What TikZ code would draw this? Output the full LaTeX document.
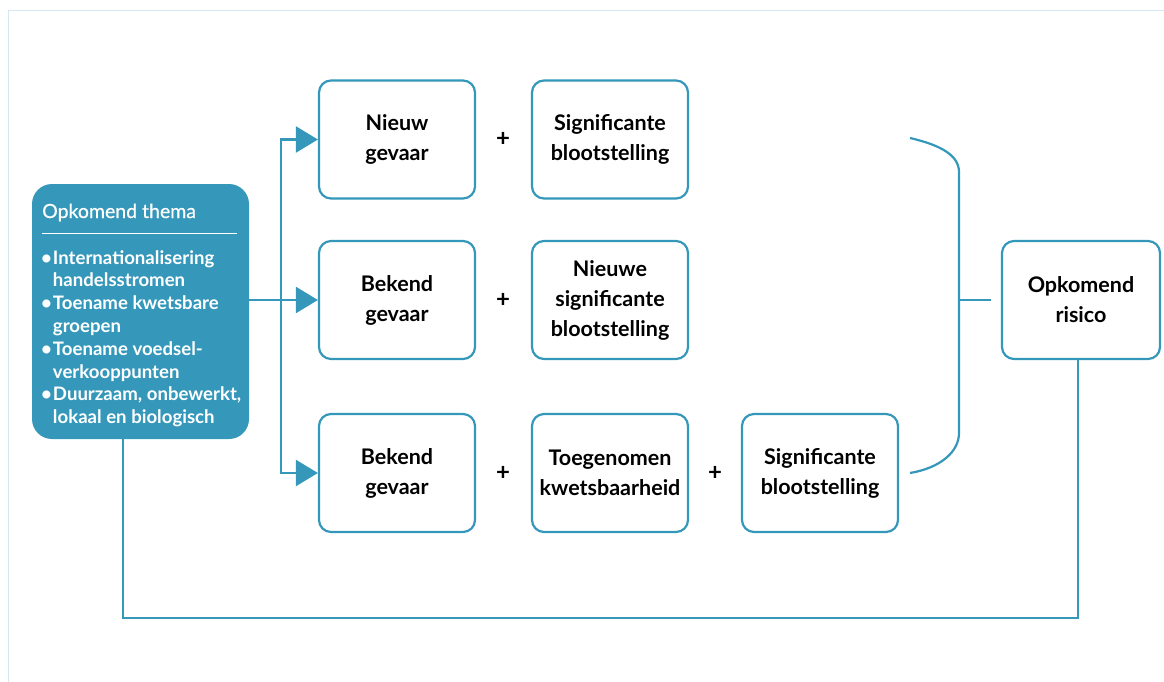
\documentclass[tikz,border=0pt]{standalone}
\usepackage{fontspec}
\setmainfont{Lato}
\newfontfamily\titlefont{Lato}[FakeBold=0.5]
\usetikzlibrary{arrows.meta}
\definecolor{mainblue}{HTML}{3598BA}
\definecolor{framecol}{HTML}{D5E8F1}
\begin{document}
\begin{tikzpicture}[x=1pt,y=-1pt,
  conn/.style={draw=mainblue,line width=2.2pt},
  arr/.style={conn,-{Triangle[length=22pt,width=26pt]}},
  box/.style={draw=mainblue,line width=2.2pt,rounded corners=12pt,fill=white,
    minimum width=156pt,minimum height=118pt,align=center,
    font=\fontsize{21.5}{30}\selectfont\bfseries,inner sep=2pt},
  plus/.style={font=\fontsize{24}{24}\selectfont\bfseries,inner sep=0pt},
  bullettext/.style={text=white,font=\fontsize{18.6}{22.8}\selectfont\bfseries,anchor=north west,inner sep=0pt,align=left}
]
\useasboundingbox (0,0) rectangle (1164,682);
\fill[white] (0,0) rectangle (1164,682);
\draw[framecol,line width=1pt] (8.5,682) -- (8.5,10.5) -- (1164,10.5);

% left theme box
\node[fill=mainblue,rounded corners=20pt,minimum width=217pt,minimum height=255pt,inner sep=0pt] (lb) at (140.5,311.5) {};
\node[text=white,font=\titlefont\fontsize{19.5}{22}\selectfont,anchor=west,inner sep=0pt] (title) at (42,212.5) {Opkomend thema};
\draw[white,line width=1pt] (42,233) -- (237,233);
\node[bullettext] (list) at (41,248) {%
\begin{tabular}{@{}l@{\hspace{1pt}}l@{}}
\textbullet & Internationalisering\\
 & handelsstromen\\
\textbullet & Toename kwetsbare\\
 & groepen\\
\textbullet & Toename voedsel-\\
 & verkooppunten\\
\textbullet & Duurzaam, onbewerkt,\\
 & lokaal en biologisch
\end{tabular}};

% boxes
\node[box] (b11) at (397,139.5) {Nieuw\\gevaar};
\node[box] (b12) at (610,139.5) {Significante\\blootstelling};
\node[box] (b21) at (397,300) {Bekend\\gevaar};
\node[box] (b22) at (610,300) {Nieuwe\\significante\\blootstelling};
\node[box] (b31) at (397,473) {Bekend\\gevaar};
\node[box] (b32) at (610,473) {Toegenomen\\kwetsbaarheid};
\node[box] (b33) at (820,473) {Significante\\blootstelling};
\node[box,minimum width=158pt] (risk) at (1081,300) {Opkomend\\risico};

% plus signs
\node[plus] (p1) at (503,139) {+};
\node[plus] (p2) at (503,300) {+};
\node[plus] (p3) at (503,473) {+};
\node[plus] (p4) at (715,473) {+};

% connectors
\coordinate (split) at (281,300);
\draw[arr] (b21.west -| lb.east) -- (b21.west);
\draw[arr] (split) |- (b11.west);
\draw[arr] (split) |- (b31.west);

% brace
\draw[conn] (910,138) .. controls (940,145) and (959,155) .. (959,172) -- (959,433) .. controls (959,452) and (940,468) .. (910,473);
\coordinate (tick) at (991,300);
\draw[conn] (959,300) -- (tick);

% return line
\coordinate (ret) at (123,618);
\draw[conn] (risk.south -| 1078,0) |- (ret) -- (ret |- lb.south);
\end{tikzpicture}
\end{document}
